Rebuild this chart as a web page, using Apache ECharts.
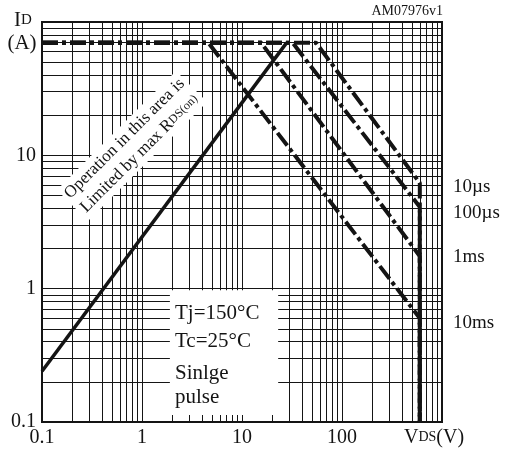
<!DOCTYPE html>
<html>
<head>
<meta charset="utf-8">
<script src="https://cdn.jsdelivr.net/npm/echarts@6/dist/echarts.min.js"></script>
<style>
	html, body { margin: 0; padding: 0; background: #fff; }
	#soaWrapper { width: 508px; height: 450px; }
</style>
</head>
<body>
<div id="soaWrapper"></div>
<script>
	// 坐标轴范围 / 刻度
	var xDecades = [0.1, 1, 10, 100];
	var yDecades = [0.1, 1, 10];
	var minorSteps = [1, 2, 3, 4, 5, 6, 7, 8, 9];
	var boxTicks = [2, 3, 4, 5, 6, 7, 8, 9, 10, 20];

	// RDS(on) 限制线 [VDS, ID]
	var rdsLimit = [[0.1, 0.24], [28, 70]];

	// 单脉冲曲线
	var pulseNames = ['10µs', '100µs', '1ms', '10ms'];
	var idMax = 70;
	var vdsMax = 600;
	var kneeV = [55, 32, 15.5, 4.6];
	var endI = [6.2, 4.1, 1.75, 0.6];

	var serif = '"Liberation Serif", "Times New Roman", serif';
	var ink = '#141414';
	var gridInk = '#151515';

	var myChart = echarts.init(document.getElementById('soaWrapper'));

	// 网格线（主 + 次）
	var gridLines = [];
	xDecades.forEach(function (d) {
		minorSteps.forEach(function (k) {
			var v = +(d * k).toPrecision(3);
			if (v > 0.1 && v < 1000) gridLines.push({ xAxis: v });
		});
	});
	yDecades.forEach(function (d) {
		minorSteps.forEach(function (k) {
			var v = +(d * k).toPrecision(3);
			if (v > 0.1 && v < 100) gridLines.push({ yAxis: v });
		});
	});

	var series = [{
		name: 'grid',
		type: 'line',
		data: [],
		silent: true,
		z: 0,
		markLine: {
			z: 0,
			silent: true,
			animation: false,
			symbol: ['none', 'none'],
			label: { show: false },
			lineStyle: { type: 'solid', color: gridInk, width: 1 },
			data: gridLines
		}
	}, {
		name: 'RDS(on)',
		type: 'line',
		data: rdsLimit,
		showSymbol: false,
		z: 10,
		lineStyle: { color: ink, width: 3.5 }
	}];

	pulseNames.forEach(function (name, i) {
		series.push({
			name: name,
			type: 'line',
			showSymbol: false,
			z: 10,
			data: [[0.1, idMax], [kneeV[i], idMax], [vdsMax, endI[i]], [vdsMax, 0.1]],
			lineStyle: { color: ink, width: 4, type: [16, 4, 4, 4], cap: 'butt' }
		});
	});

	var axisLabelBase = { color: ink, fontFamily: serif, fontSize: 20 };

	myChart.setOption({
		animation: false,
		grid: { left: 42, top: 22, width: 400, height: 400, show: true, borderColor: ink, borderWidth: 2 },
		xAxis: [{
			type: 'log',
			logBase: 10,
			min: 0.1,
			max: 1000,
			axisLine: { show: true, onZero: false, lineStyle: { color: ink, width: 2 } },
			axisTick: { show: false },
			splitLine: { show: false },
			axisLabel: Object.assign({}, axisLabelBase, {
				margin: 6,
				formatter: function (v) {
					if (v >= 999) return '{v|V}{s|DS}{e|(V)}';
					return String(v);
				},
				rich: {
					v: { fontFamily: serif, fontSize: 20, color: ink },
					s: { fontFamily: serif, fontSize: 14, color: ink, padding: [0, 0, 1, 0] },
					e: { fontFamily: serif, fontSize: 20, color: ink, padding: [0, 16, 0, 0] }
				}
			})
		}, {
			// 框内的小刻度
			type: 'log',
			logBase: 10,
			min: 0.1,
			max: 1000,
			position: 'bottom',
			z: 8,
			axisLine: { show: false },
			axisLabel: { show: false },
			splitLine: { show: false },
			axisTick: { show: true, inside: true, length: 7, customValues: boxTicks, lineStyle: { color: gridInk, width: 1 } }
		}],
		yAxis: {
			type: 'log',
			logBase: 10,
			min: 0.1,
			max: 100,
			axisLine: { show: true, onZero: false, lineStyle: { color: ink, width: 2 } },
			axisTick: { show: false },
			splitLine: { show: false },
			axisLabel: Object.assign({}, axisLabelBase, {
				margin: 6,
				formatter: function (v) { return v >= 99 ? '' : String(v); }
			})
		},
		series: series
	});

	// 注释文字
	var p1 = myChart.convertToPixel({ gridIndex: 0 }, [1.9, 1]);
	var p2 = myChart.convertToPixel({ gridIndex: 0 }, [23, 0.1]);

	function label(x, y, text, size, align) {
		return {
			type: 'text',
			x: x,
			y: y,
			z: 9,
			silent: true,
			style: { text: text, fill: ink, fontFamily: serif, fontSize: size, align: align || 'left', verticalAlign: 'middle' }
		};
	}

	var noteTexts = ['Tj=150°C', 'Tc=25°C', 'Sinlge', 'pulse'];
	var noteY = [313, 341, 373, 397];
	var pulseLabelY = [187, 213, 257, 323];

	var elements = [{
		type: 'rect',
		z: 7,
		silent: true,
		shape: { x: p1[0], y: p1[1] + 1.5, width: p2[0] - p1[0], height: p2[1] - p1[1] - 3 },
		style: { fill: '#fff' }
	}, {
		type: 'text',
		x: 132,
		y: 146,
		z: 7,
		rotation: Math.PI / 4,
		silent: true,
		style: {
			text: 'Operation in this area is\nLimited by max R{s|DS(on)}',
			fill: ink,
			fontFamily: serif,
			fontSize: 17,
			lineHeight: 21,
			align: 'center',
			verticalAlign: 'middle',
			backgroundColor: '#fff',
			padding: [1, 3],
			rich: { s: { fontFamily: serif, fontSize: 12, fill: ink } }
		}
	},
	label(443, 11, 'AM07976v1', 14, 'right'),
	{
		type: 'text', x: 23, y: 20, z: 9, silent: true,
		style: {
			text: '{a|I}{b|D}', fill: ink, align: 'center', verticalAlign: 'middle',
			rich: { a: { fontFamily: serif, fontSize: 21, fill: ink }, b: { fontFamily: serif, fontSize: 15, fill: ink } }
		}
	},
	label(22, 43, '(A)', 21, 'center')];

	noteTexts.forEach(function (t, i) {
		elements.push(label(175, noteY[i], t, 21, 'left'));
	});
	pulseNames.forEach(function (n, i) {
		elements.push(label(453, pulseLabelY[i], n, 19, 'left'));
	});

	myChart.setOption({ graphic: { elements: elements } });
</script>
</body>
</html>
